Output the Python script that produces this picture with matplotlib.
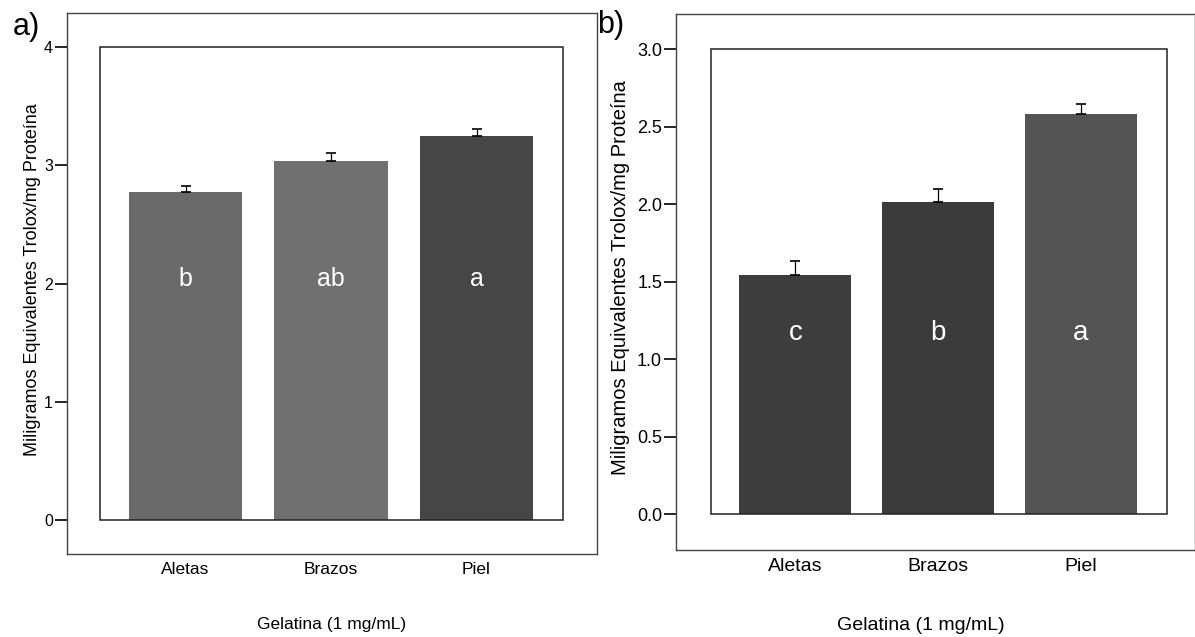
import matplotlib
matplotlib.use("Agg")
import matplotlib.pyplot as plt
from matplotlib.patches import Rectangle

plt.rcParams['font.family'] = ['Liberation Sans', 'DejaVu Sans']

categorias = ["Aletas", "Brazos", "Piel"]

# panel a)
valores_a = [2.77, 3.04, 3.25]
error_a = [0.055, 0.06, 0.055]
letras_a = ["b", "ab", "a"]
colores_a = ["#6a6a6a", "#707070", "#464646"]

# panel b)
valores_b = [1.54, 2.015, 2.58]
error_b = [0.09, 0.085, 0.065]
letras_b = ["c", "b", "a"]
colores_b = ["#3d3d3d", "#3b3b3b", "#545454"]

ylabel = "Miligramos Equivalentes Trolox/mg Proteína"
xlabel = "Gelatina (1 mg/mL)"

W, H = 1195, 637
fig = plt.figure(figsize=(W / 100, H / 100), dpi=100)


def px_axes(left, top, right, bottom):
    return fig.add_axes([left / W, 1 - bottom / H, (right - left) / W, (bottom - top) / H])


def panel(ax, vals, errs, letras, colores, ylim, xlim, inner_x, ymax, yticks, ytl,
          fs_tick, fs_cat, fs_let, let_y, width):
    x = range(len(vals))
    ax.bar(x, vals, width=width, color=colores, edgecolor="none", zorder=2)
    ax.errorbar(x, vals, yerr=[[0] * len(errs), errs], fmt="none", ecolor="black",
                elinewidth=0.9, capsize=3.5, capthick=1.2, zorder=3)
    # caja interior
    ax.add_patch(Rectangle((inner_x[0], 0), inner_x[1] - inner_x[0], ymax,
                           fill=False, edgecolor="#222222", lw=1.1, zorder=4))
    for xi, l in zip(x, letras):
        ax.text(xi, let_y, l, color="white", ha="center", va="center", fontsize=fs_let, zorder=5)
    ax.set_xlim(*xlim)
    ax.set_ylim(*ylim)
    ax.set_yticks(yticks)
    ax.set_yticklabels(ytl, fontsize=fs_tick)
    ax.set_xticks(list(x))
    ax.set_xticklabels(categorias, fontsize=fs_cat)
    ax.tick_params(axis="x", length=0, pad=6)
    ax.tick_params(axis="y", length=9, width=1.2, pad=1)
    for s in ax.spines.values():
        s.set_color("#444444")
        s.set_linewidth(1.0)


ax1 = px_axes(67, 12.7, 597, 554)
panel(ax1, valores_a, error_a, letras_a, colores_a,
      ylim=(-0.287, 4.29), xlim=(-0.815, 2.828), inner_x=(-0.591, 2.596), ymax=4,
      yticks=[0, 1, 2, 3, 4], ytl=["0", "1", "2", "3", "4"],
      fs_tick=11.5, fs_cat=12.5, fs_let=18, let_y=2.04, width=0.78)
fig.text(33 / W, 1 - 280 / H, ylabel, rotation=90, ha="center", va="center", fontsize=13)
fig.text(332 / W, 1 - 625 / H, xlabel, ha="center", va="center", fontsize=12.5)
fig.text(26 / W, 1 - 27 / H, "a)", ha="center", va="center", fontsize=22)

ax2 = px_axes(676, 14, 1194.5, 550)
panel(ax2, valores_b, error_b, letras_b, colores_b,
      ylim=(-0.232, 3.226), xlim=(-0.837, 2.798), inner_x=(-0.592, 2.602), ymax=3,
      yticks=[0, 0.5, 1, 1.5, 2, 2.5, 3],
      ytl=["0.0", "0.5", "1.0", "1.5", "2.0", "2.5", "3.0"],
      fs_tick=13, fs_cat=14, fs_let=20, let_y=1.17, width=0.785)
fig.text(620 / W, 1 - 278 / H, ylabel, rotation=90, ha="center", va="center", fontsize=14.5)
fig.text(921 / W, 1 - 625 / H, xlabel, ha="center", va="center", fontsize=14)
fig.text(611 / W, 1 - 25 / H, "b)", ha="center", va="center", fontsize=22)

fig.savefig("out.png", dpi=100)
